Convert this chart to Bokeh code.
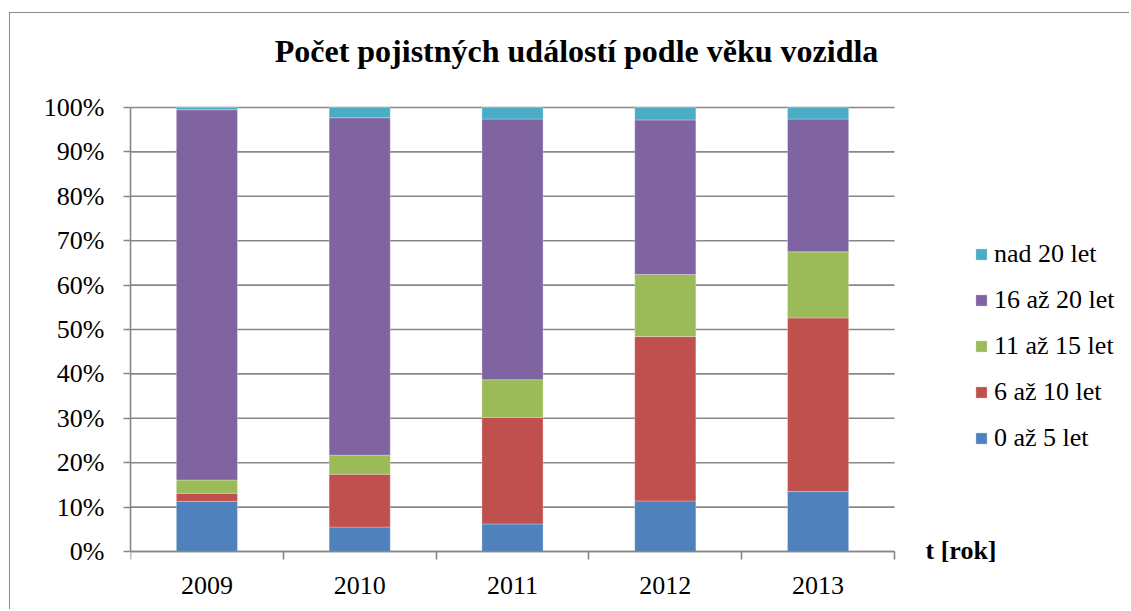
from bokeh.plotting import figure
from bokeh.models import (Range1d, FixedTicker, NumeralTickFormatter, Legend,
                          LegendItem, Label, ColumnDataSource)
from bokeh.embed import file_html
from bokeh.resources import INLINE

# ---- data (percent shares) ----
years = ["2009", "2010", "2011", "2012", "2013"]
series = ["0 až 5 let", "6 až 10 let", "11 až 15 let", "16 až 20 let", "nad 20 let"]
age_0_5 = [11.3, 5.5, 6.2, 11.4, 13.5]
age_6_10 = [1.8, 11.9, 24.0, 37.0, 39.1]
age_11_15 = [3.0, 4.3, 8.5, 14.0, 14.9]
age_16_20 = [83.4, 76.0, 58.7, 34.8, 29.9]
age_over_20 = [0.5, 2.3, 2.6, 2.8, 2.6]
y_ticks = [0.0, 0.1, 0.2, 0.3, 0.4, 0.5, 0.6, 0.7, 0.8, 0.9, 1.0]
colors = ["#4F81BD", "#C0504D", "#9BBB59", "#8064A2", "#4BACC6"]

FONT = "Liberation Serif"
GRID = "#878787"

n = len(years)
pos = [i + 0.5 for i in range(n)]
keys = ["s0", "s1", "s2", "s3", "s4"]
src = ColumnDataSource(dict(
    x=pos,
    s0=[v / 100 for v in age_0_5],
    s1=[v / 100 for v in age_6_10],
    s2=[v / 100 for v in age_11_15],
    s3=[v / 100 for v in age_16_20],
    s4=[v / 100 for v in age_over_20],
))

# layout: the plot frame covers the whole canvas right of the y axis;
# the data area is x 0..n, y 0..1
W, H = 1120, 597
LEFT = 120
ZERO_FROM_BOTTOM = 59          # pixel height below the 0 % line
PX_PER_CAT = 152.8
PX_PER_UNIT_Y = 444.0
frame_w = W - LEFT
x_max = frame_w / PX_PER_CAT
y_min = -ZERO_FROM_BOTTOM / PX_PER_UNIT_Y
y_max = (H - ZERO_FROM_BOTTOM) / PX_PER_UNIT_Y

p = figure(width=W, height=H, output_backend="svg", toolbar_location=None,
           x_range=Range1d(0, x_max), y_range=Range1d(y_min, y_max),
           min_border_left=LEFT, min_border_right=0,
           min_border_top=0, min_border_bottom=0)
p.margin = (12, 0, 0, 9)
p.styles = {"border-top": "1px solid #8c8c8c", "border-left": "1px solid #8c8c8c"}
p.outline_line_color = None
p.background_fill_color = "white"
p.border_fill_color = "white"
p.xgrid.visible = False
p.ygrid.visible = False

# horizontal grid lines limited to the category area
grid_src = ColumnDataSource(dict(y=y_ticks, x0=[0] * len(y_ticks), x1=[n] * len(y_ticks)))
p.segment(x0="x0", x1="x1", y0="y", y1="y", source=grid_src,
          line_color=GRID, line_width=1.6)

rs = p.vbar_stack(keys, x="x", width=0.4, color=colors, source=src,
                  line_color="white", line_alpha=0.35, line_width=0.8)

# x axis, pinned at 0 %
xa = p.xaxis[0]
xa.fixed_location = 0
xa.bounds = (0, n)
xa.ticker = FixedTicker(ticks=pos, minor_ticks=list(range(n + 1)))
xa.major_label_overrides = {pos[i]: years[i] for i in range(n)}
xa.major_tick_out = 0
xa.major_tick_in = 0
xa.minor_tick_in = 0
xa.minor_tick_out = 8
xa.minor_tick_line_color = GRID
xa.minor_tick_line_width = 1.6
xa.axis_line_color = GRID
xa.axis_line_width = 1.6
xa.major_label_standoff = 17
xa.major_label_text_font = FONT
xa.major_label_text_font_size = "26px"
xa.major_label_text_color = "black"

# y axis
ya = p.yaxis[0]
ya.bounds = (0, 1)
ya.ticker = FixedTicker(ticks=y_ticks)
ya.formatter = NumeralTickFormatter(format="0%")
ya.major_tick_out = 7
ya.major_tick_in = 0
ya.minor_tick_out = 0
ya.minor_tick_in = 0
ya.major_tick_line_color = GRID
ya.major_tick_line_width = 1.6
ya.axis_line_color = GRID
ya.axis_line_width = 1.6
ya.major_label_standoff = 19
ya.major_label_text_font = FONT
ya.major_label_text_font_size = "26px"
ya.major_label_text_color = "black"

# title
p.add_layout(Label(x=2.919, y=1.127, text="Počet pojistných událostí podle věku vozidla",
                   text_font=FONT, text_font_size="32px", text_font_style="bold",
                   text_align="center", text_baseline="alphabetic", text_color="black"))

# axis caption
p.add_layout(Label(x=5.203, y=0.002, text="t [rok]", text_font=FONT, text_font_size="26px",
                   text_font_style="bold", text_align="left", text_baseline="middle",
                   text_color="black"))

# legend (location is measured from the frame's bottom-left corner)
items = [LegendItem(label=series[i], renderers=[rs[i]]) for i in reversed(range(len(series)))]
leg = Legend(items=items, location=(844, 98 + ZERO_FROM_BOTTOM), orientation="vertical",
             glyph_width=14, glyph_height=14, label_standoff=6, spacing=16,
             padding=0, margin=0, border_line_color=None, background_fill_alpha=0,
             label_text_font=FONT, label_text_font_size="26px", label_text_color="black")
p.add_layout(leg, "center")

open("out.html", "w").write(file_html(p, INLINE))
